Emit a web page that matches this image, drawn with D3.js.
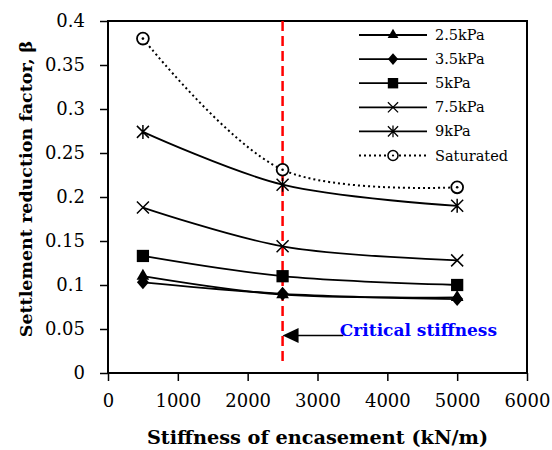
<!DOCTYPE html>
<html>
<head>
<meta charset="utf-8">
<script src="https://cdn.jsdelivr.net/npm/d3@7"></script>
<style>
body { margin: 0; background: #fff; }
svg { display: block; }
</style>
</head>
<body>
<div id="chart"></div>
<script>
// stiffness values (kN/m)
var stiffness = [500, 2500, 5000];

var seriesNames = ["2.5kPa", "3.5kPa", "5kPa", "7.5kPa", "9kPa", "Saturated"];
var seriesMarkers = ["triangle", "diamond", "square", "times", "star", "circle"];

var beta_2_5 = [0.110, 0.089, 0.086];
var beta_3_5 = [0.103, 0.090, 0.084];
var beta_5 = [0.133, 0.110, 0.100];
var beta_7_5 = [0.188, 0.144, 0.128];
var beta_9 = [0.274, 0.214, 0.190];
var beta_sat = [0.380, 0.231, 0.211];

var xTicks = [0, 1000, 2000, 3000, 4000, 5000, 6000];
var yTicks = [0, 0.05, 0.1, 0.15, 0.2, 0.25, 0.3, 0.35, 0.4];

var criticalStiffness = 2500;
var annotationText = "Critical stiffness";

var width = 552,
	height = 450;
var margin = {left: 108, right: 25, top: 21, bottom: 77};

var svg = d3.select("#chart").append("svg")
	.attr("width", width)
	.attr("height", height);

var x = d3.scaleLinear().domain([0, 6000]).range([margin.left, width - margin.right]);
var y = d3.scaleLinear().domain([0, 0.4]).range([height - margin.bottom, margin.top]);

var fontFamily = "'DejaVu Serif', serif";

// axes
var xAxis = svg.append("g")
	.attr("transform", "translate(0," + y(0) + ")")
	.call(d3.axisBottom(x).tickValues(xTicks).tickSize(8).tickPadding(13).tickFormat(d3.format("d")));
var yAxis = svg.append("g")
	.attr("transform", "translate(" + x(0) + ",0)")
	.call(d3.axisLeft(y).tickValues(yTicks).tickSize(8).tickPadding(15)
		.tickFormat(function(d) { return String(+d.toFixed(2)); }));

[xAxis, yAxis].forEach(function(ax) {
	ax.select(".domain").remove();
	ax.selectAll(".tick line").style("stroke", "black").style("stroke-width", "1.5px");
	ax.selectAll(".tick text")
		.style("font-family", fontFamily)
		.style("font-size", "18px")
		.style("fill", "black");
});

// plot frame
svg.append("rect")
	.attr("x", x(0))
	.attr("y", y(0.4))
	.attr("width", x(6000) - x(0))
	.attr("height", y(0) - y(0.4))
	.style("fill", "none")
	.style("stroke", "black")
	.style("stroke-width", "2px");

// critical stiffness line
svg.append("line")
	.attr("x1", x(criticalStiffness))
	.attr("x2", x(criticalStiffness))
	.attr("y1", y(0.4))
	.attr("y2", y(0.008))
	.style("stroke", "#ff0000")
	.style("stroke-width", "2.5px")
	.style("stroke-dasharray", "10,5");

// markers
function markerPath(type) {
	if (type == "triangle") return d3.symbol().type(d3.symbolTriangle).size(70)();
	if (type == "square") return d3.symbol().type(d3.symbolSquare).size(150)();
	if (type == "diamond") return "M0,-7L6,0L0,7L-6,0Z";
	if (type == "times") return "M-6,-6L6,6M-6,6L6,-6";
	if (type == "star") return "M-6,-6L6,6M-6,6L6,-6M0,-7L0,7";
	return d3.symbol().type(d3.symbolCircle).size(110)();
}

function drawMarker(g, type) {
	var p = g.append("path").attr("d", markerPath(type));
	if (type == "times" || type == "star") {
		p.style("fill", "none").style("stroke", "black").style("stroke-width", "1.5px");
	} else if (type == "circle") {
		p.style("fill", "white").style("stroke", "black").style("stroke-width", "1.8px");
		g.append("circle").attr("r", 1.3).style("fill", "black");
	} else {
		p.style("fill", "black");
	}
}

var allSeries = [beta_2_5, beta_3_5, beta_5, beta_7_5, beta_9, beta_sat];

var line = d3.line()
	.x(function(d, i) { return x(stiffness[i]); })
	.y(function(d) { return y(d); })
	.curve(d3.curveCatmullRom.alpha(0.5));

allSeries.forEach(function(vals, si) {
	var dotted = seriesMarkers[si] == "circle";
	svg.append("path")
		.datum(vals)
		.attr("d", line)
		.style("fill", "none")
		.style("stroke", "black")
		.style("stroke-width", dotted ? "2px" : "1.8px")
		.style("stroke-dasharray", dotted ? "2,3" : null);
});

allSeries.forEach(function(vals, si) {
	vals.forEach(function(v, i) {
		var g = svg.append("g").attr("transform", "translate(" + x(stiffness[i]) + "," + y(v) + ")");
		drawMarker(g, seriesMarkers[si]);
	});
});

// legend
var legend = svg.append("g").attr("transform", "translate(359,35)");
seriesNames.forEach(function(name, i) {
	var row = legend.append("g").attr("transform", "translate(0," + (i * 24.1) + ")");
	var dotted = seriesMarkers[i] == "circle";
	row.append("line")
		.attr("x1", 0).attr("x2", 68)
		.style("stroke", "black")
		.style("stroke-width", dotted ? "2px" : "1.8px")
		.style("stroke-dasharray", dotted ? "2,3" : null);
	var m = row.append("g").attr("transform", "translate(34,0) scale(0.85)");
	drawMarker(m, seriesMarkers[i]);
	row.append("text")
		.attr("x", 76)
		.attr("dy", "0.35em")
		.style("font-family", fontFamily)
		.style("font-size", "14.5px")
		.text(name);
});

// annotation arrow
var tipX = x(criticalStiffness), arrowY = y(0.0425);
svg.append("line")
	.attr("x1", tipX + 15).attr("x2", x(3370))
	.attr("y1", arrowY).attr("y2", arrowY)
	.style("stroke", "black")
	.style("stroke-width", "1.5px");
svg.append("path")
	.attr("d", "M" + tipX + "," + arrowY + "l16,-7.5l0,15Z")
	.style("fill", "black");
svg.append("text")
	.attr("x", x(3320))
	.attr("y", arrowY)
	.style("font-family", fontFamily)
	.style("font-weight", "bold")
	.style("font-size", "17px")
	.style("fill", "#0000ff")
	.text(annotationText);

// axis titles
svg.append("text")
	.attr("x", (x(0) + x(6000)) / 2)
	.attr("y", 444)
	.attr("text-anchor", "middle")
	.style("font-family", fontFamily)
	.style("font-weight", "bold")
	.style("font-size", "19.3px")
	.text("Stiffness of encasement (kN/m)");

svg.append("text")
	.attr("transform", "translate(32,189) rotate(-90)")
	.attr("text-anchor", "middle")
	.style("font-family", fontFamily)
	.style("font-weight", "bold")
	.style("font-size", "17.5px")
	.text("Settlement reduction factor, \u03b2");
</script>
</body>
</html>
